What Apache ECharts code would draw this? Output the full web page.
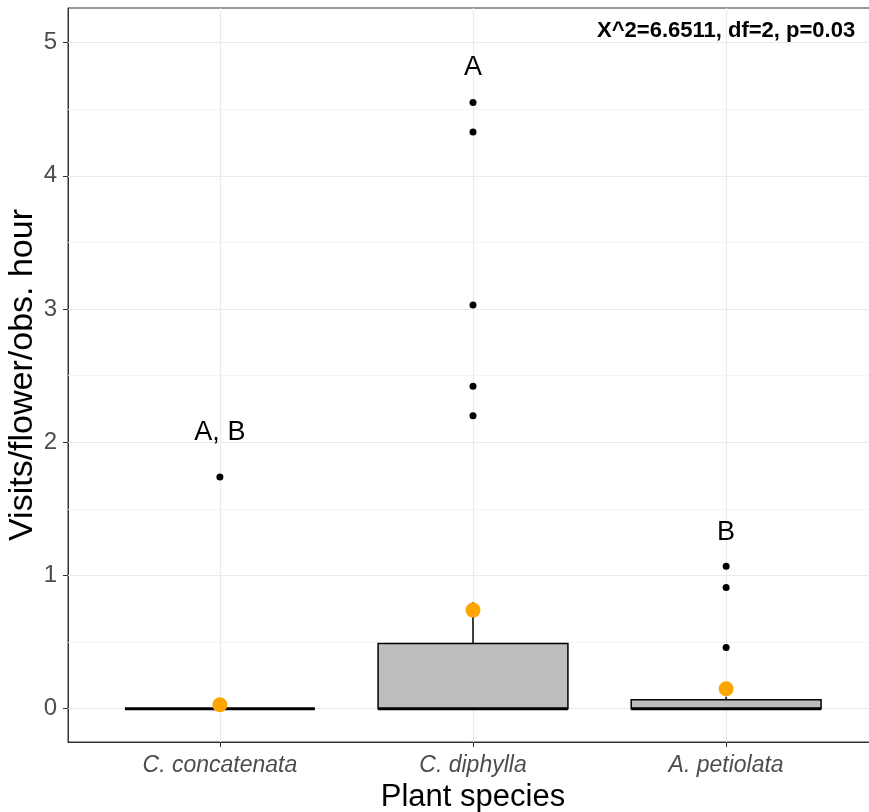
<!DOCTYPE html>
<html>
<head>
<meta charset="utf-8">
<script src="https://cdn.jsdelivr.net/npm/echarts@6/dist/echarts.min.js"></script>
<style>
  html, body { margin: 0; padding: 0; background: #fff; overflow: hidden; }
  #chart { width: 869px; height: 812px; }
</style>
</head>
<body>
<div id="chart"></div>
<script>
// Visits per flower per observation hour, three plant species

// categories and box stats
let species = ["C. concatenata", "C. diphylla", "A. petiolata"];
let whiskerLow = [0, 0, 0];
let q1 = [0, 0, 0];
let median = [0, 0, 0];
let q3 = [0, 0.49, 0.067];
let whiskerHigh = [0, 0.80, 0.09];
let means = [0.03, 0.74, 0.15];

// outliers as [species index (1-based), value]
let outliers = [
    [1, 1.74],
    [2, 4.55], [2, 4.33], [2, 3.03], [2, 2.42], [2, 2.20],
    [3, 1.07], [3, 0.91], [3, 0.46]
];

// group letters
let letters = ["A, B", "A", "B"];
let letterY = [2.07, 4.81, 1.32];

let statText = "X^2=6.6511, df=2, p=0.03";
let statPos = [3, 5.09];

let yTicks = [0, 1, 2, 3, 4, 5];
let yMinor = [0.5, 1.5, 2.5, 3.5, 4.5];

let chartDom = document.getElementById("chart");
let chart = echarts.init(chartDom);

let boxData = species.map((s, i) => [i + 1, whiskerLow[i], q1[i], median[i], q3[i], whiskerHigh[i]]);

function renderBox(params, api) {
    let x = api.value(0);
    let halfW = api.size([0.75, 0])[0] / 2;
    let low = api.coord([x, api.value(1)]);
    let p1 = api.coord([x, api.value(2)]);
    let med = api.coord([x, api.value(3)]);
    let p3 = api.coord([x, api.value(4)]);
    let high = api.coord([x, api.value(5)]);
    let lineStyle = { stroke: "#000", lineWidth: 1.5 };
    return {
        type: "group",
        children: [
            { type: "line", shape: { x1: high[0], y1: high[1], x2: p3[0], y2: p3[1] }, style: lineStyle },
            { type: "line", shape: { x1: low[0], y1: low[1], x2: p1[0], y2: p1[1] }, style: lineStyle },
            {
                type: "rect",
                shape: { x: p1[0] - halfW, y: p3[1], width: halfW * 2, height: p1[1] - p3[1] },
                style: { fill: "#BEBEBE", stroke: "#000", lineWidth: 1.5 }
            },
            { type: "line", shape: { x1: med[0] - halfW, y1: med[1], x2: med[0] + halfW, y2: med[1] }, style: { stroke: "#000", lineWidth: 3 } }
        ]
    };
}

let gridLines = [];
yTicks.forEach(v => gridLines.push({ yAxis: v, lineStyle: { color: "#EBEBEB", width: 1.2, type: "solid" } }));
yMinor.forEach(v => gridLines.push({ yAxis: v, lineStyle: { color: "#F2F2F2", width: 0.8, type: "solid" } }));
[1, 2, 3].forEach(v => gridLines.push({ xAxis: v, lineStyle: { color: "#EBEBEB", width: 1.2, type: "solid" } }));

let option = {
    animation: false,
    textStyle: { fontFamily: "Liberation Sans, Arial, sans-serif" },
    grid: {
        left: 68, top: 8, width: 810, bottom: 70,
        outerBoundsMode: "none",
        containLabel: false,
        show: true, borderColor: "#333333", borderWidth: 1, backgroundColor: "#fff"
    },
    xAxis: {
        type: "value",
        min: 0.4,
        max: 3.6,
        name: "Plant species",
        nameLocation: "middle",
        nameGap: 38,
        nameTextStyle: { fontSize: 31, color: "#000" },
        axisLine: { show: true, onZero: false, lineStyle: { color: "#333333" } },
        axisTick: { show: true, customValues: [1, 2, 3], length: 5, lineStyle: { color: "#333333" } },
        axisLabel: {
            customValues: [1, 2, 3],
            formatter: v => species[Math.round(v) - 1],
            fontSize: 23, fontStyle: "italic", color: "#4D4D4D", margin: 12
        },
        splitLine: { show: false }
    },
    yAxis: {
        type: "value",
        min: -0.25,
        max: 5.26,
        name: "Visits/flower/obs. hour",
        nameLocation: "middle",
        nameGap: 28,
        nameMoveOverlap: false,
        nameTextStyle: { fontSize: 34, color: "#000" },
        axisLine: { show: true, onZero: false, lineStyle: { color: "#333333" } },
        axisTick: { show: true, customValues: yTicks, length: 5, lineStyle: { color: "#333333" } },
        axisLabel: { customValues: yTicks, fontSize: 24, color: "#4D4D4D", margin: 11 },
        splitLine: { show: false }
    },
    series: [
        {
            type: "scatter",
            data: [],
            silent: true,
            markLine: {
                silent: true,
                symbol: "none",
                z: 1,
                label: { show: false },
                data: gridLines
            }
        },
        {
            type: "custom",
            z: 3,
            renderItem: renderBox,
            encode: { x: 0, y: [1, 2, 3, 4, 5] },
            data: boxData
        },
        {
            type: "scatter",
            z: 4,
            symbolSize: 7,
            itemStyle: { color: "#000", opacity: 1 },
            data: outliers
        },
        {
            type: "scatter",
            z: 5,
            symbolSize: 15,
            itemStyle: { color: "#FFA500", opacity: 1 },
            data: means.map((m, i) => [i + 1, m])
        },
        {
            type: "scatter",
            z: 6,
            symbolSize: 0,
            itemStyle: { opacity: 1 },
            label: {
                show: true,
                position: "inside",
                formatter: p => letters[p.dataIndex],
                fontSize: 27,
                color: "#000"
            },
            data: letterY.map((y, i) => [i + 1, y])
        },
        {
            type: "scatter",
            z: 6,
            symbolSize: 0,
            itemStyle: { opacity: 1 },
            label: {
                show: true,
                position: "inside",
                formatter: statText,
                fontSize: 22,
                fontWeight: "bold",
                color: "#000"
            },
            data: [statPos]
        }
    ]
};

chart.setOption(option);
</script>
</body>
</html>
